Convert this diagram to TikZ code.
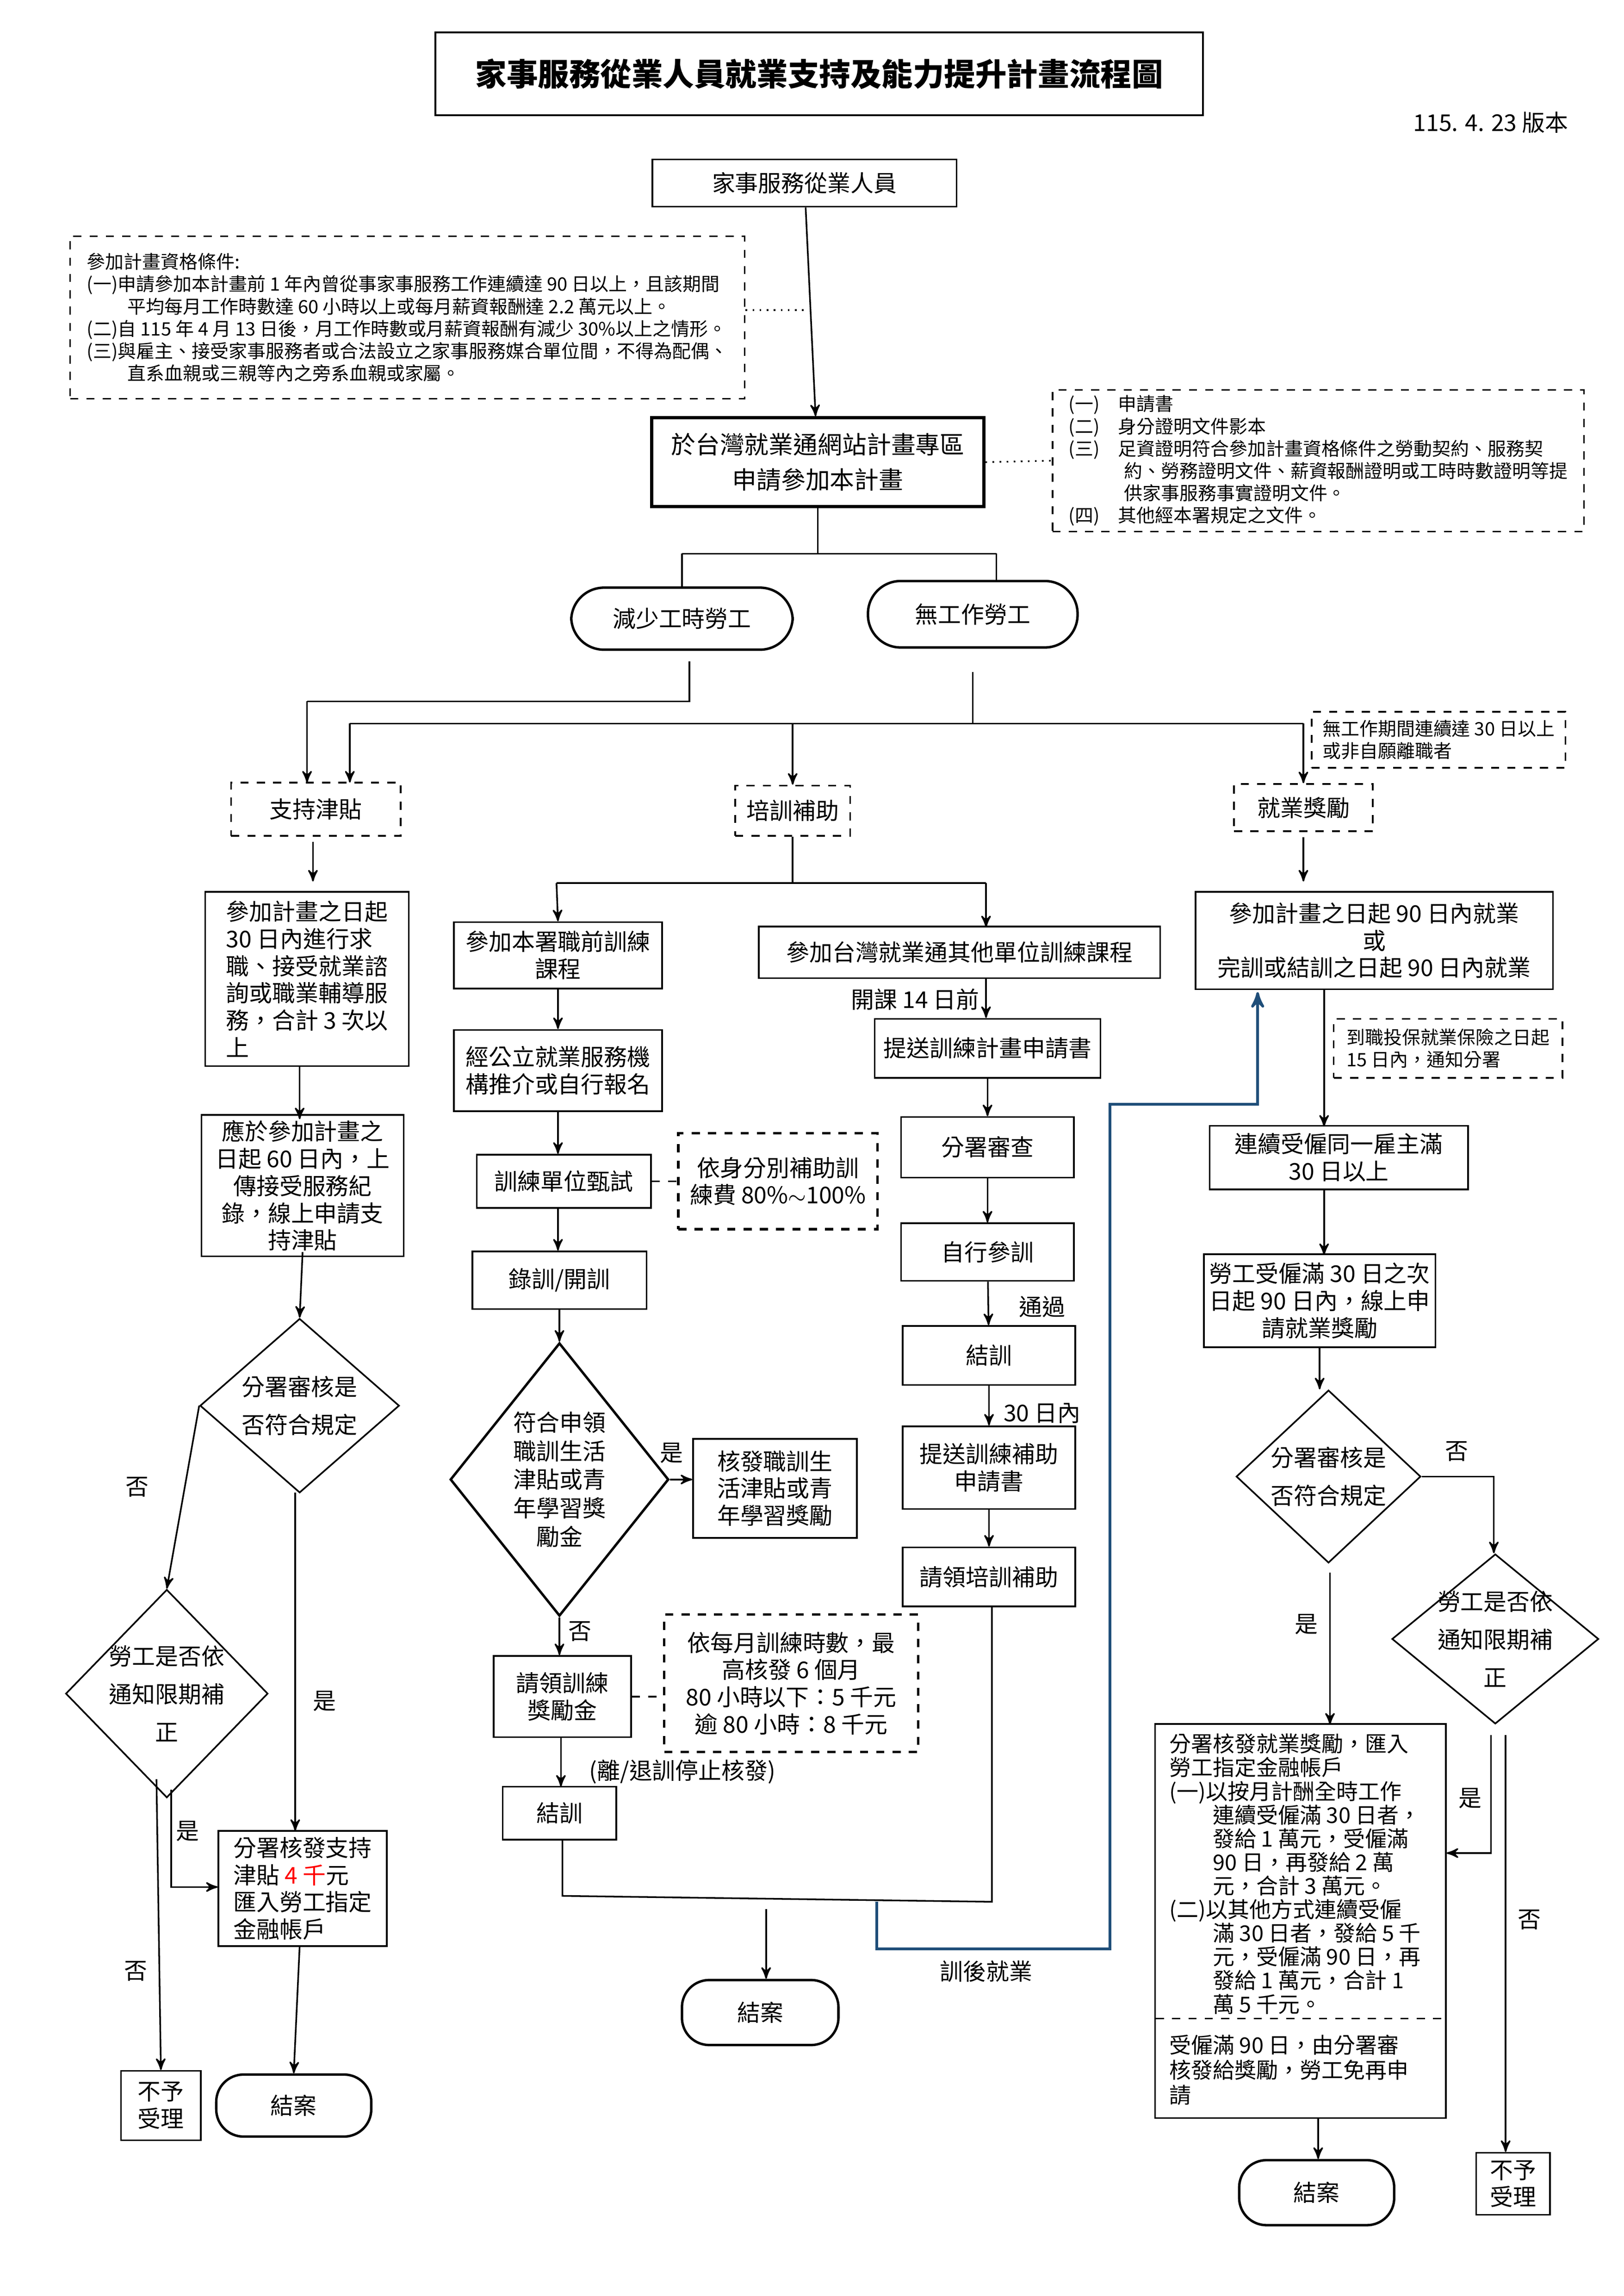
\documentclass[tikz,border=0pt]{standalone}
\usepackage{fontspec}
\setmainfont{Noto Sans CJK TC}
\usetikzlibrary{arrows,shapes.geometric,positioning}
\def\pu{0.019091cm}
\tikzset{
    box/.style={
           rectangle,
           draw=black, line width=0.6pt,
           inner sep=2pt,
           align=center,
           font=\fontsize{8.5}{10}\selectfont,
           },
    dbox/.style={
           box,
           dashed,
           },
    term/.style={
           box,
           rounded corners=10pt,
           line width=0.9pt,
           },
    dec/.style={
           diamond,
           draw=black, line width=0.6pt,
           inner sep=0pt,
           },
    sz/.style 2 args={
           minimum width=#1*\pu,
           minimum height=#2*\pu,
           },
    pil/.style={
           ->,
           line width=0.6pt,
           },
    lbl/.style={
           font=\fontsize{8.5}{10}\selectfont,
           inner sep=1pt,
           },
    small/.style={
           font=\fontsize{6.8}{8.2}\selectfont,
           align=left,
           },
}
\begin{document}
\begin{tikzpicture}[x=0.019091cm,y=-0.019091cm,>=stealth']
\useasboundingbox (0,0) rectangle (1100,1555);
% top part
\node[box, sz={520}{56}, font=\fontsize{11.5}{13}\selectfont\bfseries] (title) at (555,50) {家事服務從業人員就業支持及能力提升計畫流程圖};
\node[lbl] (ver) at (1010,83) {115. 4. 23 版本};
\node[box, sz={206}{32}] (start) at (545,124) {家事服務從業人員};
\node[dbox, sz={457}{110}, small] (elig) at (276,215) {參加計畫資格條件:\\
(一)申請參加本計畫前 1 年內曾從事家事服務工作連續達 90 日以上，且該期間\\
\hspace*{2.2em}平均每月工作時數達 60 小時以上或每月薪資報酬達 2.2 萬元以上。\\
(二)自 115 年 4 月 13 日後，月工作時數或月薪資報酬有減少 30\%以上之情形。\\
(三)與雇主、接受家事服務者或合法設立之家事服務媒合單位間，不得為配偶、\\
\hspace*{2.2em}直系血親或三親等內之旁系血親或家屬。};
\node[box, sz={225}{60}, line width=1.2pt, font=\fontsize{9}{13}\selectfont] (apply) at (554,313) {於台灣就業通網站計畫專區\\申請參加本計畫};
\node[dbox, sz={360}{96}, small] (docs) at (893,312) {(一)\quad 申請書\\
(二)\quad 身分證明文件影本\\
(三)\quad 足資證明符合參加計畫資格條件之勞動契約、服務契\\
\hspace*{3em}約、勞務證明文件、薪資報酬證明或工時時數證明等提\\
\hspace*{3em}供家事服務事實證明文件。\\
(四)\quad 其他經本署規定之文件。};
\coordinate (c1) at (545,210);
\draw[pil] (start) -- (apply);
\draw[dotted, line width=0.6pt] (elig.east |- c1) -- (c1);
\draw[dotted, line width=0.6pt] (apply.east) -- (docs.west);
% two groups
\node[term, sz={150}{42}, rounded corners=12pt] (reduce) at (462,419) {減少工時勞工};
\node[term, sz={142}{45}, rounded corners=12pt] (nowork) at (659,416) {無工作勞工};
\draw[line width=0.6pt] (apply.south) -- (554,375) (462,375) -- (675,375);
\draw[line width=0.6pt] (462,375) -- (reduce.north) (675,375) -- (675,393);
\node[dbox, sz={115}{36}] (supp) at (214,548) {支持津貼};
\node[dbox, sz={78}{34}] (train) at (537,549) {培訓補助};
\node[dbox, sz={94}{32}] (emp) at (883,547) {就業獎勵};
\node[dbox, sz={172}{38}, small, anchor=west] (empnote) at (888,501) {無工作期間連續達 30 日以上\\或非自願離職者};
\draw[line width=0.6pt] (467,448) -- (467,475) -- (208,475);
\draw[pil] (208,475) -- (208,530);
\draw[line width=0.6pt] (659,455) -- (659,490) (237,490) -- (883,490);
\draw[pil] (237,490) -- (237,530);
\draw[pil] (537,490) -- (train.north);
\draw[pil] (883,490) -- (emp.north);
% left column
\node[box, sz={138}{118}, align=left] (l1) at (208,663) {參加計畫之日起\\30 日內進行求\\職、接受就業諮\\詢或職業輔導服\\務，合計 3 次以\\上};
\node[box, sz={137}{90}] (l2) at (205,803) {應於參加計畫之\\日起 60 日內，上\\傳接受服務紀\\錄，線上申請支\\持津貼};
\node[dec, sz={135}{118}] (l3) at (203,952) {};
\node[lbl, align=center, font=\fontsize{8.5}{14}\selectfont] at (l3) {分署審核是\\否符合規定};
\node[dec, sz={137}{141}] (l4) at (113,1147) {};
\node[lbl, align=center, font=\fontsize{8.5}{14}\selectfont] at (l4) {勞工是否依\\通知限期補\\正};
\node[box, sz={114}{78}, align=left] (l5) at (205,1279) {分署核發支持\\津貼 \textcolor{red}{4 千}元\\匯入勞工指定\\金融帳戶};
\node[term, sz={105}{42}] (endl) at (199,1426) {結案};
\node[box, sz={54}{47}] (rejl) at (109,1426) {不予\\受理};
\draw[pil] (212,570) -- (212,597);
\draw[pil] (203,722) -- (203,758);
\draw[pil] (205,848) -- (l3.north);
\draw[pil] (l3.west) -- (l4.north);
\node[lbl] at (93,1007) {否};
\draw[pil] (200,1011) -- (200,1240);
\node[lbl] at (220,1152) {是};
\draw[pil] (116,1212) -- (116,1278) -- (l5.west |- 116,1278);
\node[lbl] at (127,1240) {是};
\draw[pil] (106,1205) -- (rejl.north);
\node[lbl] at (92,1335) {否};
\draw[pil] (203,1318) -- (endl.north);
% middle column
\draw[line width=0.6pt] (train.south) -- (537,598) (377,598) -- (668,598);
\node[box, sz={141}{45}] (m1) at (378,647) {參加本署職前訓練\\課程};
\node[box, sz={141}{55}] (m2) at (378,725) {經公立就業服務機\\構推介或自行報名};
\node[box, sz={118}{36}] (m3) at (382,800) {訓練單位甄試};
\node[dbox, sz={135}{65}, line width=0.9pt] (m3n) at (527,800) {依身分別補助訓\\練費 80\%$\sim$100\%};
\node[box, sz={118}{39}] (m4) at (379,867) {錄訓/開訓};
\node[dec, sz={148}{185}, line width=0.9pt] (m5) at (379,1002) {};
\node[lbl, align=center, font=\fontsize{8.5}{10.5}\selectfont] at (m5) {符合申領\\職訓生活\\津貼或青\\年學習獎\\勵金};
\node[box, sz={111}{67}] (m6) at (525,1008) {核發職訓生\\活津貼或青\\年學習獎勵};
\node[box, sz={93}{55}] (m7) at (381,1149) {請領訓練\\獎勵金};
\node[dbox, sz={172}{93}, line width=0.9pt] (m7n) at (536,1140) {依每月訓練時數，最\\高核發 6 個月\\80 小時以下：5 千元\\逾 80 小時：8 千元};
\node[box, sz={77}{36}] (m8) at (379,1228) {結訓};
\node[term, sz={106}{44}] (endm) at (515,1363) {結案};
\draw[pil] (377,598) -- (m1.north);
\draw[pil] (m1) -- (m2);
\draw[pil] (m2) -- (m3.north -| m2);
\draw[dashed, line width=0.6pt] (m3.east) -- (m3n.west);
\draw[pil] (378,818) -- (m4.north -| 378,818);
\draw[pil] (m4) -- (m5.north);
\draw[pil] (m5.east) -- (m6.west |- m5.east);
\node[lbl] at (455,984) {是};
\draw[pil] (m5.south) -- (m7.north -| m5.south);
\node[lbl] at (393,1105) {否};
\draw[dashed, line width=0.6pt] (m7.east) -- (m7n.west |- m7.east);
\draw[pil] (380,1177) -- (380,1210);
\node[lbl, anchor=west] at (397,1200) {(離/退訓停止核發)};
% right of middle
\node[box, sz={272}{35}] (r1) at (650,645) {參加台灣就業通其他單位訓練課程};
\node[box, sz={153}{40}] (r2) at (669,710) {提送訓練計畫申請書};
\node[box, sz={117}{41}] (r3) at (669,777) {分署審查};
\node[box, sz={117}{39}] (r4) at (669,848) {自行參訓};
\node[box, sz={117}{40}] (r5) at (670,918) {結訓};
\node[box, sz={117}{56}] (r6) at (670,994) {提送訓練補助\\申請書};
\node[box, sz={117}{40}] (r7) at (670,1068) {請領培訓補助};
\draw[pil] (668,598) -- (668,628);
\draw[pil] (668,663) -- (r2.north -| 668,663);
\node[lbl] at (620,677) {開課 14 日前};
\draw[pil] (r2) -- (r3);
\draw[pil] (r3) -- (r4);
\draw[pil] (r4) -- (r5);
\node[lbl] at (706,885) {通過};
\draw[pil] (r5) -- (r6);
\node[lbl] at (706,957) {30 日內};
\draw[pil] (r6) -- (r7);
\draw[line width=0.6pt] (381,1246) -- (381,1284) -- (672,1288) -- (r7.south -| 672,1288);
\draw[pil] (519,1293) -- (endm.north -| 519,1293);
\node[lbl] at (668,1335) {訓後就業};
% right column
\node[box, sz={242}{66}] (e1) at (931,637) {參加計畫之日起 90 日內就業\\或\\完訓或結訓之日起 90 日內就業};
\node[dbox, sz={155}{40}, small, anchor=west] (e1n) at (903,710) {到職投保就業保險之日起\\15 日內，通知分署};
\node[box, sz={175}{43}] (e2) at (907,784) {連續受僱同一雇主滿\\30 日以上};
\node[box, sz={148}{63}] (e3) at (894,881) {勞工受僱滿 30 日之次\\日起 90 日內，線上申\\請就業獎勵};
\node[dec, sz={125}{117}] (e4) at (900,1000) {};
\node[lbl, align=center, font=\fontsize{8.5}{14}\selectfont] at (e4) {分署審核是\\否符合規定};
\node[dec, sz={140}{115}] (e5) at (1013,1110) {};
\node[lbl, align=center, font=\fontsize{8.5}{14}\selectfont] at (e5) {勞工是否依\\通知限期補\\正};
\node[box, sz={197}{267}] (e6) at (881,1301) {};
\node[lbl, align=left, anchor=north west, font=\fontsize{8}{8.7}\selectfont] (e6a) at (790,1172) {分署核發就業獎勵，匯入\\勞工指定金融帳戶\\(一)以按月計酬全時工作\\\hspace*{2em}連續受僱滿 30 日者，\\\hspace*{2em}發給 1 萬元，受僱滿\\\hspace*{2em}90 日，再發給 2 萬\\\hspace*{2em}元，合計 3 萬元。\\(二)以其他方式連續受僱\\\hspace*{2em}滿 30 日者，發給 5 千\\\hspace*{2em}元，受僱滿 90 日，再\\\hspace*{2em}發給 1 萬元，合計 1\\\hspace*{2em}萬 5 千元。};
\draw[dashed, line width=0.6pt] (783,1367) -- (980,1367);
\node[lbl, align=left, anchor=north west, font=\fontsize{8}{9.2}\selectfont] (e6b) at (790,1376) {受僱滿 90 日，由分署審\\核發給獎勵，勞工免再申\\請};
\node[term, sz={105}{44}] (ende) at (892,1485) {結案};
\node[box, sz={50}{42}] (rejr) at (1025,1479) {不予\\受理};
\draw[pil] (883,567) -- (883,597);
\draw[pil] (897,670) -- (897,763);
\draw[pil] (897,806) -- (897,850);
\draw[pil] (e3) -- (e4.north -| e3);
\draw[pil] (e4.east) -- (1012,1000) -- (e5.north -| 1012,1000);
\node[lbl] at (987,983) {否};
\draw[pil] (901,1065) -- (901,1168);
\node[lbl] at (885,1100) {是};
\draw[pil] (1010,1175) -- (1010,1255) -- (e6.east |- 1010,1255);
\node[lbl] at (996,1218) {是};
\draw[pil] (1020,1175) -- (rejr.north -| 1020,1175);
\node[lbl] at (1036,1300) {否};
\draw[pil] (893,1435) -- (ende.north -| 893,1435);
% training to employment
\draw[->, line width=1pt, color={rgb,255:red,31;green,78;blue,121}] (594,1288) -- (594,1320) -- (752,1320) -- (752,748) -- (852,748) -- (852,672);
\end{tikzpicture}
\end{document}
